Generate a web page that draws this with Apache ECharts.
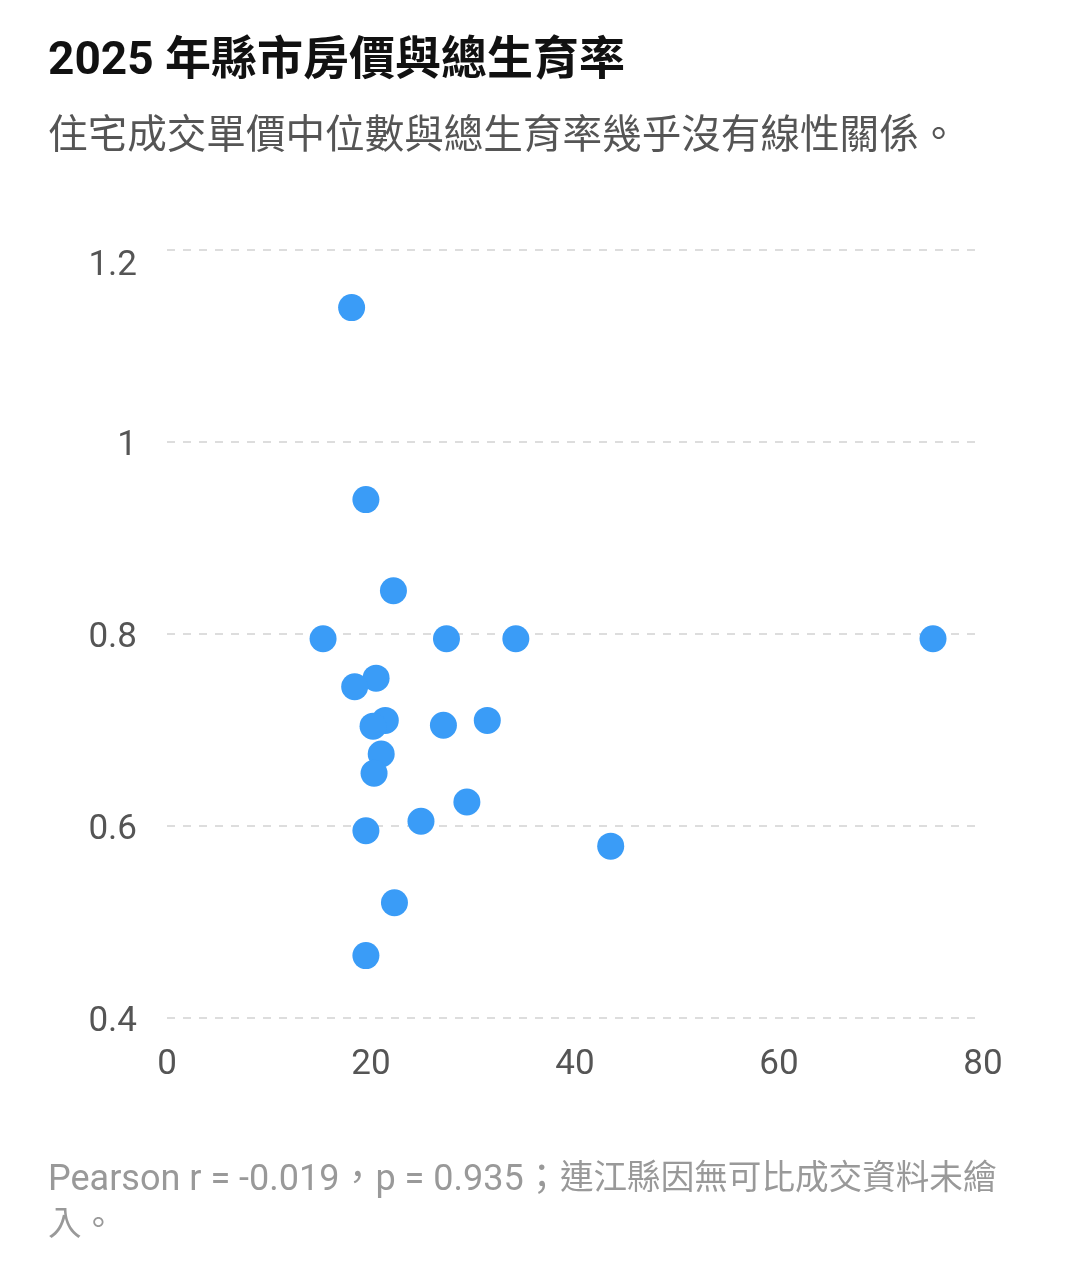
<!DOCTYPE html>
<html><head><meta charset="utf-8">
<script src="https://cdn.jsdelivr.net/npm/echarts@6/dist/echarts.min.js"></script>
<style>html,body{margin:0;padding:0;background:#fff;}#c{width:1071px;height:1280px;}</style>
</head><body><div id="c"></div>
<script>
const housePrice = [18.1, 19.5, 22.2, 15.3, 27.4, 34.2, 75.1, 20.5, 18.4, 21.4, 20.2, 27.1, 31.4, 21.0, 20.3, 29.4, 19.5, 24.9, 43.5, 22.3, 19.5];
const fertility  = [1.14, 0.94, 0.845, 0.795, 0.795, 0.795, 0.795, 0.754, 0.745, 0.710, 0.704, 0.705, 0.710, 0.675, 0.655, 0.625, 0.595, 0.605, 0.579, 0.520, 0.465];
const xTicks = [0, 20, 40, 60, 80];
const yTicks = [0.4, 0.6, 0.8, 1, 1.2];
const titleText = '2025 年縣市房價與總生育率';
const subtitleText = '住宅成交單價中位數與總生育率幾乎沒有線性關係。';
const noteStats = 'Pearson r = -0.019，p = 0.935；';
const noteRest = '連江縣因無可比成交資料未繪入。';

const pts = housePrice.map((x, i) => [x, fertility[i]]);
const font = 'Roboto, "Noto Sans CJK TC", sans-serif';
const yMax = yTicks[yTicks.length - 1];
const chart = echarts.init(document.getElementById('c'), null, {renderer: 'canvas'});
chart.setOption({
  backgroundColor: '#fff',
  animation: false,
  title: [
    {text: titleText, left: 48, top: 39, padding: 0, textStyle: {fontFamily: font, fontSize: 46, fontWeight: 'bold', color: '#111'}},
    {text: subtitleText, left: 48, top: 118, padding: 0, textStyle: {fontFamily: font, fontSize: 39.6, fontWeight: 'normal', color: '#555'}},
    {text: '{a|' + noteStats + '}{c|' + noteRest + '}', left: 48, top: 1158, padding: 0,
      textStyle: {fontFamily: font, fontSize: 36, fontWeight: 'normal', color: '#999', width: 955, overflow: 'break', lineHeight: 46,
        rich: {
          a: {fontFamily: font, fontSize: 36, color: '#999', lineHeight: 46},
          c: {fontFamily: font, fontSize: 33.6, color: '#999', lineHeight: 46}
        }}}
  ],
  grid: {left: 167, right: 88, top: 250, bottom: 262},
  xAxis: {
    type: 'value', min: xTicks[0], max: xTicks[xTicks.length - 1], interval: 20,
    axisLine: {show: false}, axisTick: {show: false}, splitLine: {show: false},
    axisLabel: {fontFamily: font, fontSize: 35, color: '#555', margin: 30}
  },
  yAxis: {
    type: 'value', min: yTicks[0], max: yMax, interval: 0.2,
    axisLine: {show: false}, axisTick: {show: false},
    splitLine: {show: true, lineStyle: {color: '#ddd', type: [8, 8], width: 2}},
    axisLabel: {fontFamily: font, fontSize: 35, color: '#555', margin: 30,
      formatter: v => {
        const s = String(+v.toFixed(2));
        return Math.abs(v - yMax) < 1e-9 ? '{mx|' + s + '}' : '{n|' + s + '}';
      },
      rich: {
        mx: {fontFamily: font, fontSize: 35, color: '#555', padding: [32, 0, 0, 0]},
        n: {fontFamily: font, fontSize: 35, color: '#555', padding: [8, 0, 0, 0]}
      }
    }
  },
  series: [{
    type: 'scatter', data: pts, symbolSize: 27,
    itemStyle: {color: '#3a9cf7', opacity: 1}
  }]
});
</script></body></html>
